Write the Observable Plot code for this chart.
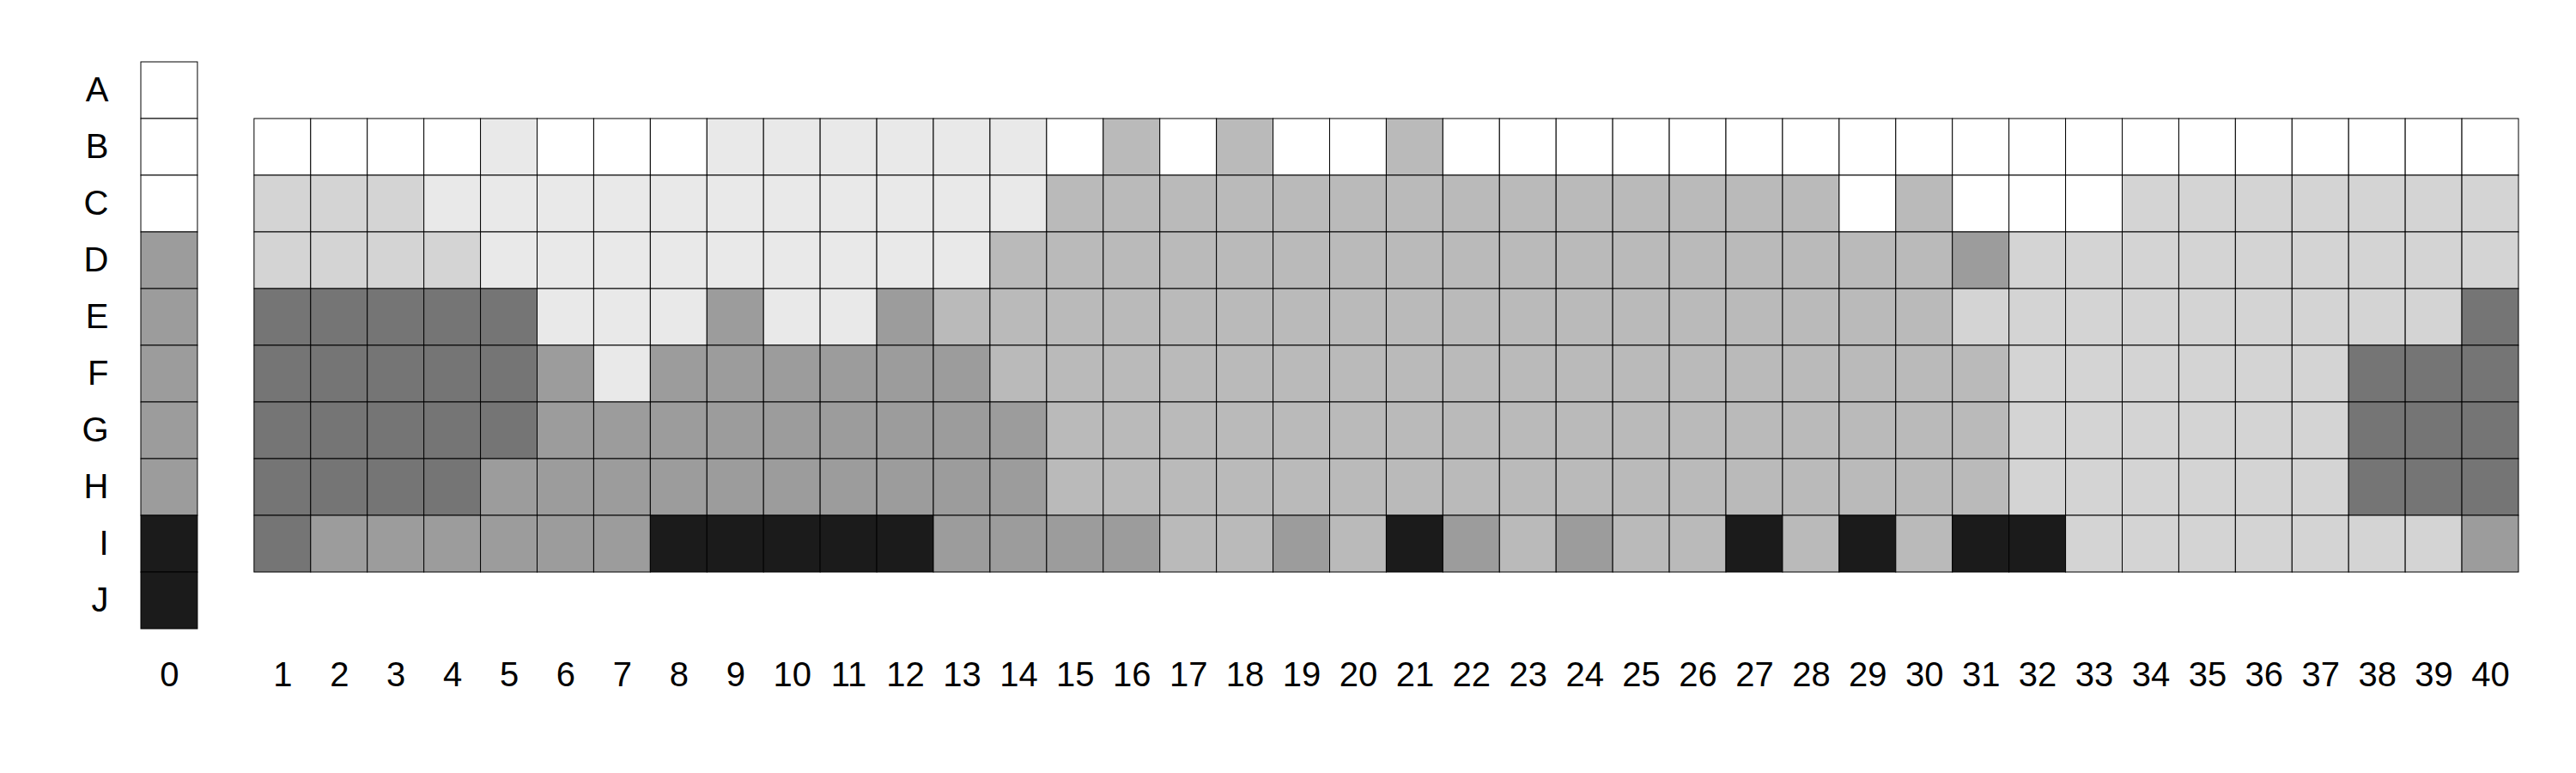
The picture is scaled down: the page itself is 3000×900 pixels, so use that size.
<!DOCTYPE html>
<html>
<head>
<meta charset="utf-8">
<script src="https://cdn.jsdelivr.net/npm/d3@7"></script>
<script src="https://cdn.jsdelivr.net/npm/@observablehq/plot@0.6"></script>
<style>
  html, body { margin: 0; padding: 0; background: #ffffff; }
  #chart { width: 3000px; height: 900px; }
</style>
</head>
<body>
<div id="chart"></div>
<script>
// Row labels (top to bottom) and column labels
const rowLabels = ["A", "B", "C", "D", "E", "F", "G", "H", "I", "J"];
const colLabels = ["1","2","3","4","5","6","7","8","9","10","11","12","13","14","15","16","17","18","19","20",
                   "21","22","23","24","25","26","27","28","29","30","31","32","33","34","35","36","37","38","39","40"];

// Shade level of each cell: 0 = white … 6 = black
const col0Levels = [0, 0, 0, 4, 4, 4, 4, 4, 6, 6]; // column "0", rows A–J
const rowB = [0,0,0,0,1,0,0,0,1,1, 1,1,1,1,0,3,0,3,0,0, 3,0,0,0,0,0,0,0,0,0, 0,0,0,0,0,0,0,0,0,0];
const rowC = [2,2,2,1,1,1,1,1,1,1, 1,1,1,1,3,3,3,3,3,3, 3,3,3,3,3,3,3,3,0,3, 0,0,0,2,2,2,2,2,2,2];
const rowD = [2,2,2,2,1,1,1,1,1,1, 1,1,1,3,3,3,3,3,3,3, 3,3,3,3,3,3,3,3,3,3, 4,2,2,2,2,2,2,2,2,2];
const rowE = [5,5,5,5,5,1,1,1,4,1, 1,4,3,3,3,3,3,3,3,3, 3,3,3,3,3,3,3,3,3,3, 2,2,2,2,2,2,2,2,2,5];
const rowF = [5,5,5,5,5,4,1,4,4,4, 4,4,4,3,3,3,3,3,3,3, 3,3,3,3,3,3,3,3,3,3, 3,2,2,2,2,2,2,5,5,5];
const rowG = [5,5,5,5,5,4,4,4,4,4, 4,4,4,4,3,3,3,3,3,3, 3,3,3,3,3,3,3,3,3,3, 3,2,2,2,2,2,2,5,5,5];
const rowH = [5,5,5,5,4,4,4,4,4,4, 4,4,4,4,3,3,3,3,3,3, 3,3,3,3,3,3,3,3,3,3, 3,2,2,2,2,2,2,5,5,5];
const rowI = [5,4,4,4,4,4,4,6,6,6, 6,6,4,4,4,4,3,3,4,3, 6,4,3,4,3,3,6,3,6,3, 6,6,2,2,2,2,2,2,2,4];

// Build the table for the cell mark
const mainRows = { B: rowB, C: rowC, D: rowD, E: rowE, F: rowF, G: rowG, H: rowH, I: rowI };
const cells = [];
rowLabels.forEach((r, i) => cells.push({ col: "0", row: r, level: col0Levels[i] }));
for (const [r, vals] of Object.entries(mainRows)) {
  vals.forEach((v, j) => cells.push({ col: colLabels[j], row: r, level: v }));
}

const xDomain = ["0", "gap", ...colLabels];
const shades = ["#ffffff", "#e9e9e9", "#d4d4d4", "#bababa", "#9c9c9c", "#757575", "#1b1b1b"];

const chart = Plot.plot({
  width: 3000,
  height: 900,
  marginLeft: 164,
  marginRight: 67,
  marginTop: 72,
  marginBottom: 168,
  style: { fontFamily: "'Liberation Sans', Arial, Helvetica, sans-serif", fontSize: "40px", background: "#ffffff", color: "#000" },
  x: { type: "band", domain: xDomain, padding: 0, axis: null, label: null },
  y: { type: "band", domain: rowLabels, padding: 0, axis: null, label: null },
  color: { type: "ordinal", domain: [0, 1, 2, 3, 4, 5, 6], range: shades },
  marks: [
    Plot.cell(cells, { x: "col", y: "row", fill: "level", stroke: "#000", strokeWidth: 1, inset: 0 }),
    Plot.axisX({ anchor: "bottom", tickSize: 0, tickPadding: 38, fontSize: 40, label: null,
                 tickFormat: d => d === "gap" ? "" : d }),
    Plot.axisY({ anchor: "left", tickSize: 0, tickPadding: 38, fontSize: 40, label: null })
  ]
});
document.getElementById("chart").appendChild(chart);
</script>
</body>
</html>
